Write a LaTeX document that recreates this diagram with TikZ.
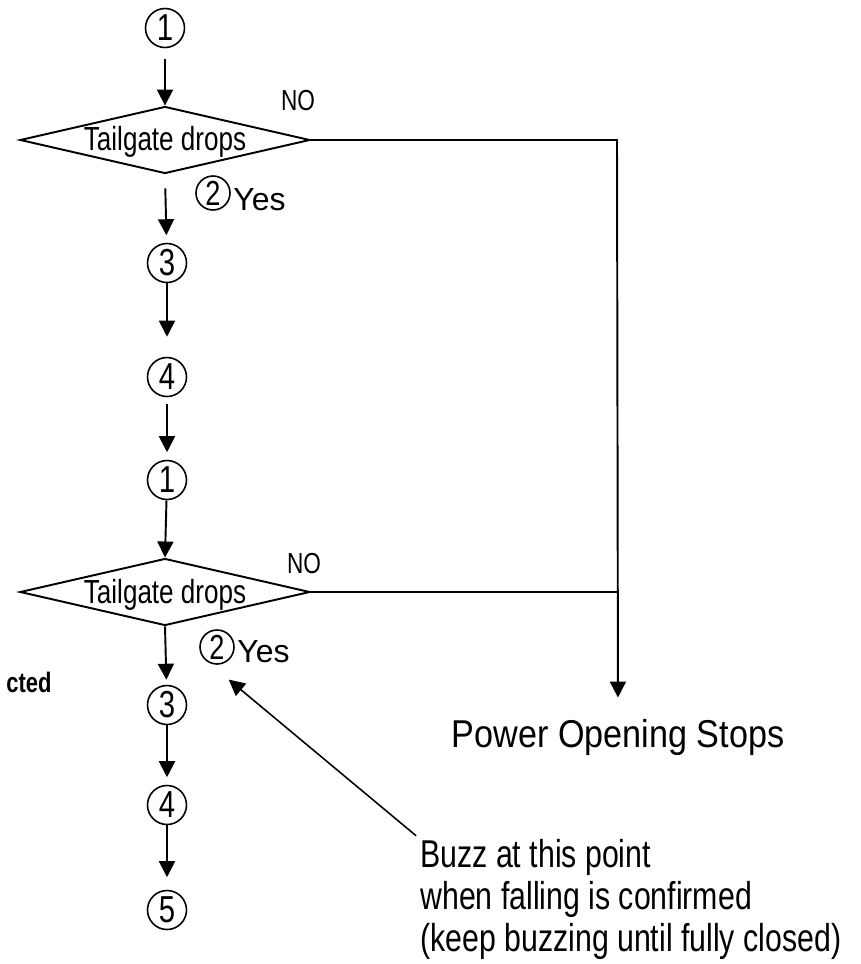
\documentclass[tikz,border=0pt]{standalone}
\usepackage{fontspec}
\setmainfont{Liberation Sans}[FakeStretch=0.78]
\newfontfamily\widesans{Liberation Sans}[FakeStretch=0.88]
\newfontfamily\plainsans{Liberation Sans}
\usetikzlibrary{shapes.geometric,arrows.meta}

\tikzset{
  num/.style={circle,draw,line width=0.9pt,inner sep=0pt,minimum size=0.78cm,font=\fontsize{21.4}{21.4}\selectfont},
  numsmall/.style={num,minimum size=0.68cm,font=\fontsize{19.8}{19.8}\selectfont},
  decision/.style={diamond,draw,line width=1.1pt,inner sep=0pt,minimum width=5.8cm,minimum height=1.34cm},
  flow/.style={line width=1.1pt,-{Triangle[length=0.32cm,width=0.32cm]}},
  plainline/.style={line width=1.1pt},
}

\begin{document}
\begin{tikzpicture}[x=0.02cm,y=-0.02cm,font=\fontsize{19}{19}\selectfont]
  \useasboundingbox (0,0) rectangle (861,964);
  \node[num] (top1) at (165,28) {1};
  \node[decision] (drop1) at (165,140) {};
  \node[anchor=base,inner sep=0pt] at (165,150) {Tailgate drops};
  \node[anchor=base,inner sep=0pt,font=\fontsize{16.5}{16.5}\selectfont] at (298,110) {NO};
  \node[numsmall] (yes1) at (213,193) {2};
  \node[anchor=base west,inner sep=0pt,font=\plainsans\fontsize{18.2}{18.2}\selectfont] at (233,210) {Yes};
  \node[num] (three1) at (167,263) {3};
  \node[num] (four1) at (167,377) {4};
  \node[num] (top2) at (167,480) {1};
  \node[decision] (drop2) at (165,592) {};
  \node[anchor=base,inner sep=0pt] at (165,603) {Tailgate drops};
  \node[anchor=base,inner sep=0pt,font=\fontsize{16.5}{16.5}\selectfont] at (304,573) {NO};
  \node[numsmall] (yes2) at (217,647) {2};
  \node[anchor=base west,inner sep=0pt,font=\plainsans\fontsize{18.2}{18.2}\selectfont] at (237,662) {Yes};
  \node[num] (three2) at (167,705) {3};
  \node[num] (four2) at (167,805) {4};
  \node[num] (five) at (167,910) {5};
  \node[anchor=base west,inner sep=0pt,font=\bfseries\fontsize{16}{16}\selectfont] (cut) at (6,692) {cted};
  \coordinate (corner1) at (617,140);
  \coordinate (corner2) at (617,592);
  \node[anchor=base,inner sep=0pt,font=\widesans\fontsize{22.1}{22.1}\selectfont] (stop) at (618,747) {Power Opening Stops};
  \node[anchor=north west,inner sep=0pt,align=left,font=\fontsize{22.1}{23.8}\selectfont] (buzz) at (420,839)
    {Buzz at this point\\when falling is confirmed\\(keep buzzing until fully closed)};
  \draw[flow,shorten <=0.22cm] (top1) -- (drop1.north);
  \draw[flow,shorten <=0.28cm,shorten >=0.15cm] (drop1.south) -- (three1);
  \draw[flow,shorten >=0.4cm] (three1) -- (four1);
  \draw[flow,shorten <=0.14cm,shorten >=0.15cm] (four1) -- (top2);
  \draw[flow] (top2) -- (drop2.north);
  \draw[flow,shorten >=0.1cm] (drop2.south) -- (three2);
  \draw[flow,shorten >=0.15cm] (three2) -- (four2);
  \draw[flow,shorten >=0.25cm] (four2) -- (five);
  \draw[flow,shorten >=0.42cm] (drop1.east) -- (corner1) -- (stop.north);
  \draw[plainline] (drop2.east) -- (corner2);
  \draw[flow,line width=0.9pt,shorten <=0.1cm,shorten >=1.66cm] (buzz.north west) -- (drop2.south);
\end{tikzpicture}
\end{document}
